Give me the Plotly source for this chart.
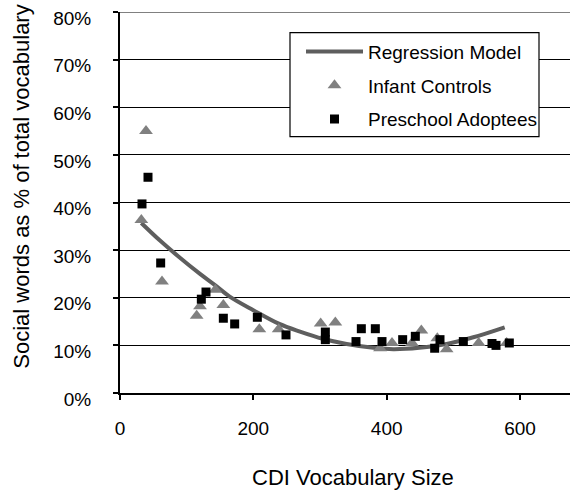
import plotly.graph_objects as go

# Regression curve, read along its path
reg_x = [32, 60, 89, 120, 142, 164, 200, 239, 270, 304, 340, 380, 410, 449, 490, 530, 577]
reg_y = [35.7, 32.0, 28.5, 25.0, 22.7, 20.3, 17.4, 14.5, 12.9, 11.4, 10.3, 9.5, 9.2, 9.5, 10.3, 11.7, 13.8]

# Infant controls
inf_x = [32, 39, 63, 115, 120, 143, 155, 209, 238, 301, 323, 390, 408, 438, 452, 476, 490, 538, 580]
inf_y = [36.3, 55.0, 23.4, 16.2, 18.2, 21.7, 18.5, 13.4, 13.4, 14.6, 14.8, 9.4, 10.5, 10.5, 13.1, 11.5, 9.2, 10.5, 10.5]

# Preschool adoptees
pre_x = [33, 42, 61, 122, 129, 155, 172, 206, 249, 308, 308, 354, 362, 383, 393, 424, 443, 472, 480, 515, 558, 564, 584]
pre_y = [39.7, 45.3, 27.3, 19.7, 21.2, 15.7, 14.5, 15.9, 12.2, 12.8, 11.2, 10.8, 13.5, 13.5, 10.8, 11.2, 11.9, 9.4, 11.2, 10.8, 10.4, 10.0, 10.5]

y_ticks = [0, 10, 20, 30, 40, 50, 60, 70, 80]
x_ticks = [0, 200, 400, 600]

FONT = "Liberation Sans, Arial, sans-serif"

# plot area in pixels: left 120, right 570, top 12.3, bottom 393.3
PL, PW, PB, PH = 120, 450, 393.3, 381


def px_x(p):
    return (p - PL) / PW


def px_y(p):
    return (PB - p) / PH


fig = go.Figure()
fig.add_trace(go.Scatter(
    x=reg_x, y=reg_y, mode="lines", name="Regression Model",
    line=dict(color="#5e5e5e", width=4, shape="spline", smoothing=1.0),
    legendgroup="a",
))
fig.add_trace(go.Scatter(
    x=inf_x, y=inf_y, mode="markers", name="Infant Controls",
    marker=dict(symbol="triangle-up", size=12, color="#808080"),
    legendgroup="b",
))
fig.add_trace(go.Scatter(
    x=pre_x, y=pre_y, mode="markers", name="Preschool Adoptees",
    marker=dict(symbol="square", size=9, color="#000000"),
    legendgroup="c",
))

fig.update_layout(
    width=570, height=492,
    margin=dict(l=PL, r=0, t=12, b=99),
    paper_bgcolor="white", plot_bgcolor="white",
    font=dict(family=FONT, color="#000000", size=19),
    showlegend=True,
    legend=dict(
        x=px_x(301), y=px_y(33),
        xanchor="left", yanchor="top",
        borderwidth=0, bgcolor="rgba(0,0,0,0)",
        font=dict(family=FONT, size=19, color="#000000"),
        itemwidth=57, tracegroupgap=6, traceorder="grouped",
    ),
    xaxis=dict(
        range=[0, 675], tickvals=x_ticks, ticktext=[str(v) for v in x_ticks],
        showgrid=False, zeroline=False,
        showline=True, linecolor="#000000", linewidth=2,
        ticks="outside", ticklen=5, tickcolor="#000000", tickwidth=1.5,
        ticklabelstandoff=12,
        tickfont=dict(size=19),
    ),
    yaxis=dict(
        range=[0, 80], tickvals=y_ticks, ticktext=[f"{v}%" for v in y_ticks],
        showgrid=True, gridcolor="#000000", gridwidth=1, zeroline=False,
        showline=True, linecolor="#000000", linewidth=2,
        ticks="outside", ticklen=5, tickcolor="#000000", tickwidth=1.5,
        ticklabelstandoff=18, ticklabelshift=6, ticklabeloverflow="allow",
        tickfont=dict(size=19),
    ),
    shapes=[
        # gray top border of the plot area
        dict(type="line", xref="paper", yref="y", x0=0, x1=1, y0=80, y1=80,
             line=dict(color="#808080", width=2), layer="above"),
        # legend frame
        dict(type="rect", xref="paper", yref="paper",
             x0=px_x(290), x1=px_x(539), y0=px_y(137), y1=px_y(33),
             line=dict(color="#000000", width=1.2), fillcolor="white", layer="above"),
    ],
    annotations=[
        dict(text="CDI Vocabulary Size", xref="paper", yref="paper",
             x=px_x(353), y=px_y(478), xanchor="center", yanchor="middle",
             showarrow=False, font=dict(size=22)),
        dict(text="Social words as % of total vocabulary", xref="paper", yref="paper",
             x=px_x(22), y=px_y(187), xanchor="center", yanchor="middle",
             textangle=-90, showarrow=False, font=dict(size=22)),
    ],
)

fig.write_html("out.html")
